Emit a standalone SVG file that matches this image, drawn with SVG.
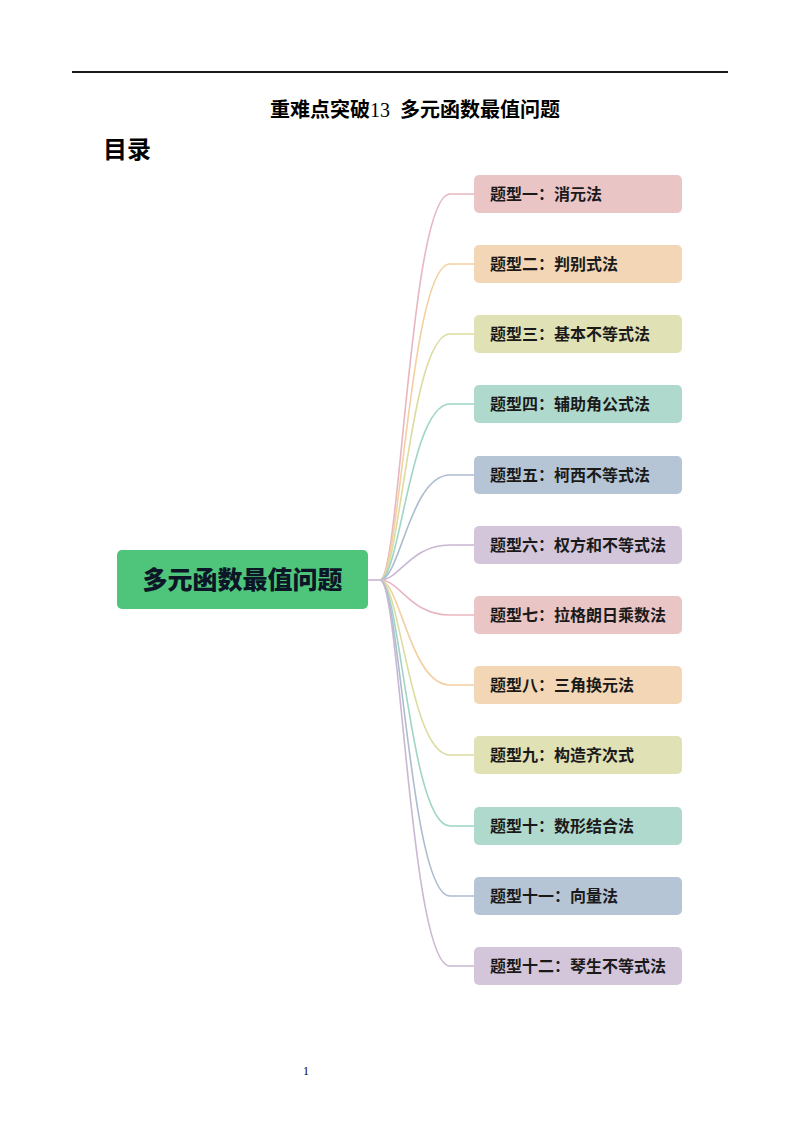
<svg xmlns="http://www.w3.org/2000/svg" width="800" height="1132" viewBox="0 0 800 1132">
<style>
.t{font-family:"Noto Sans CJK SC","Liberation Sans",sans-serif;font-weight:700;}
.bx{font-size:16px;fill:#1a1a1a;}
.c{fill:none;stroke-width:1.6;}
</style>
<rect width="800" height="1132" fill="#ffffff"/>
<line x1="72" y1="72" x2="728" y2="72" stroke="#1a1a1a" stroke-width="2"/>
<text x="415" y="117" text-anchor="middle" font-family="Liberation Serif,'Noto Sans CJK SC',serif" font-weight="700" font-size="20" fill="#000">重难点突破<tspan font-weight="400">13</tspan>&#160;&#160;多元函数最值问题</text>
<text x="103" y="158" class="t" font-size="24" fill="#000">目录</text>
<g id="connectors">
<line x1="368" y1="580" x2="380" y2="580" stroke="#c8b6d0" stroke-width="1.6"/>
<path class="c" stroke="#e8b6c0" d="M380,580 C400,580 410,194 450,194 L475,194"/>
<path class="c" stroke="#f3d0a2" d="M380,580 C400,580 410,264 450,264 L475,264"/>
<path class="c" stroke="#dcdca0" d="M380,580 C400,580 410,334 450,334 L475,334"/>
<path class="c" stroke="#9fd5c6" d="M380,580 C400,580 410,404 450,404 L475,404"/>
<path class="c" stroke="#aebccf" d="M380,580 C400,580 410,475 450,475 L475,475"/>
<path class="c" stroke="#c9b8d2" d="M380,580 C400,580 410,545 450,545 L475,545"/>
<path class="c" stroke="#e8b6c0" d="M380,580 C400,580 410,615 450,615 L475,615"/>
<path class="c" stroke="#f3d0a2" d="M380,580 C400,580 410,685 450,685 L475,685"/>
<path class="c" stroke="#dcdca0" d="M380,580 C400,580 410,755 450,755 L475,755"/>
<path class="c" stroke="#9fd5c6" d="M380,580 C400,580 410,826 450,826 L475,826"/>
<path class="c" stroke="#aebccf" d="M380,580 C400,580 410,896 450,896 L475,896"/>
<path class="c" stroke="#c9b8d2" d="M380,580 C400,580 410,966 450,966 L475,966"/>
</g>
<g id="root">
<rect x="117" y="550" width="251" height="59" rx="5" fill="#4fc57c"/>
<text x="242.5" y="589" text-anchor="middle" class="t" font-size="25" style="font-weight:900" fill="#0c1626">多元函数最值问题</text>
</g>
<g id="n1"><rect x="474" y="175" width="208" height="38" rx="5" fill="#e9c5c6"/><text x="490" y="200" class="t bx">题型一：消元法</text></g>
<g id="n2"><rect x="474" y="245" width="208" height="38" rx="5" fill="#f2d6b5"/><text x="490" y="270" class="t bx">题型二：判别式法</text></g>
<g id="n3"><rect x="474" y="315" width="208" height="38" rx="5" fill="#e0e1b4"/><text x="490" y="340" class="t bx">题型三：基本不等式法</text></g>
<g id="n4"><rect x="474" y="385" width="208" height="38" rx="5" fill="#afd9cd"/><text x="490" y="410" class="t bx">题型四：辅助角公式法</text></g>
<g id="n5"><rect x="474" y="456" width="208" height="38" rx="5" fill="#b5c5d5"/><text x="490" y="481" class="t bx">题型五：柯西不等式法</text></g>
<g id="n6"><rect x="474" y="526" width="208" height="38" rx="5" fill="#d4c6da"/><text x="490" y="551" class="t bx">题型六：权方和不等式法</text></g>
<g id="n7"><rect x="474" y="596" width="208" height="38" rx="5" fill="#e9c5c6"/><text x="490" y="621" class="t bx">题型七：拉格朗日乘数法</text></g>
<g id="n8"><rect x="474" y="666" width="208" height="38" rx="5" fill="#f2d6b5"/><text x="490" y="691" class="t bx">题型八：三角换元法</text></g>
<g id="n9"><rect x="474" y="736" width="208" height="38" rx="5" fill="#e0e1b4"/><text x="490" y="761" class="t bx">题型九：构造齐次式</text></g>
<g id="n10"><rect x="474" y="807" width="208" height="38" rx="5" fill="#afd9cd"/><text x="490" y="832" class="t bx">题型十：数形结合法</text></g>
<g id="n11"><rect x="474" y="877" width="208" height="38" rx="5" fill="#b5c5d5"/><text x="490" y="902" class="t bx">题型十一：向量法</text></g>
<g id="n12"><rect x="474" y="947" width="208" height="38" rx="5" fill="#d4c6da"/><text x="490" y="972" class="t bx">题型十二：琴生不等式法</text></g>
<text x="306" y="1075" text-anchor="middle" font-family="Liberation Serif,serif" font-size="12" fill="#000">1</text>
</svg>
